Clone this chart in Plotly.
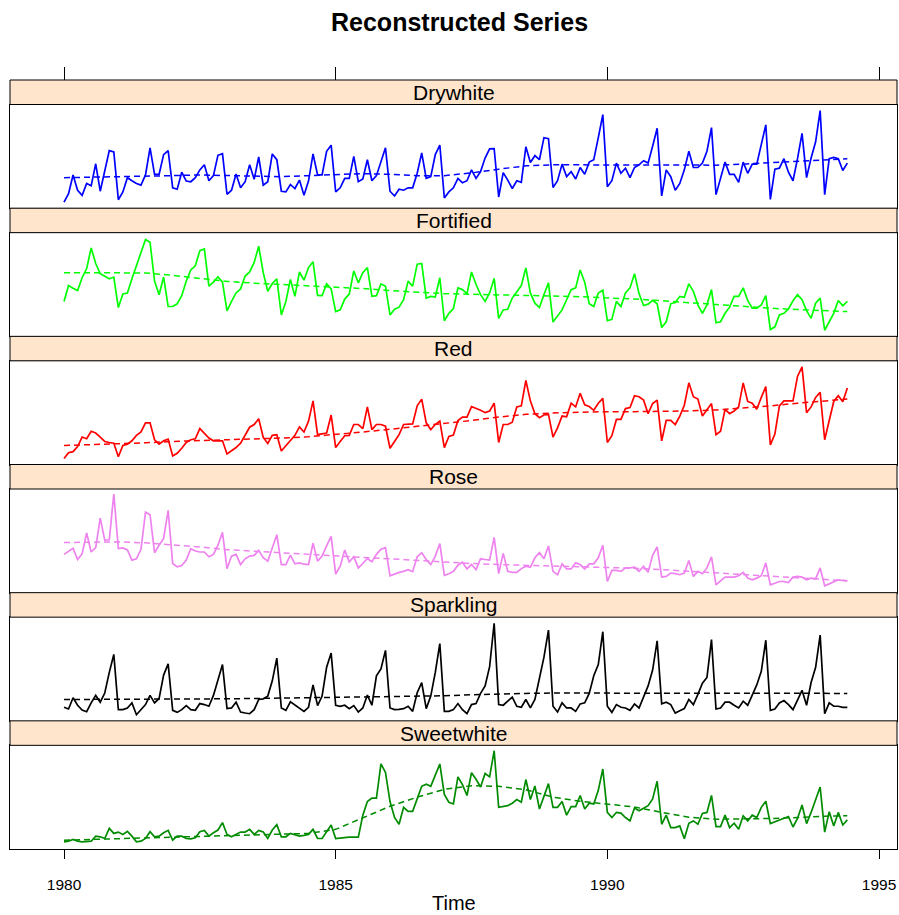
import plotly.graph_objects as go

# Monthly Australian wine sales, Jan 1980 .. Jun 1994 (174 months).
# Each panel is on its own free vertical scale (relative units, no y axis drawn).
start_year = 1980
n_months = 174

panel_names = ["Drywhite", "Fortified", "Red", "Rose", "Sparkling", "Sweetwhite"]
line_colors = ["#0000FF", "#00FF00", "#FF0000", "#EE82EE", "#000000", "#008B00"]

drywhite = [18, 43, 98, 53, 38, 73, 66, 131, 50, 108, 170, 166,
            25, 48, 90, 81, 73, 68, 98, 178, 100, 100, 158, 170,
            60, 56, 106, 80, 78, 90, 113, 128, 81, 96, 156, 161,
            41, 53, 101, 60, 78, 128, 85, 151, 68, 78, 160, 143,
            50, 48, 70, 58, 83, 38, 80, 160, 98, 98, 168, 186,
            48, 60, 88, 88, 153, 78, 86, 143, 81, 96, 138, 178,
            50, 36, 56, 53, 60, 60, 103, 163, 88, 93, 158, 186,
            30, 48, 60, 88, 75, 81, 113, 88, 108, 148, 175, 176,
            33, 105, 83, 58, 81, 76, 181, 135, 155, 143, 208, 205,
            61, 81, 130, 93, 108, 86, 120, 100, 136, 143, 208, 276,
            63, 81, 133, 103, 118, 90, 120, 128, 140, 133, 183, 236,
            36, 113, 93, 53, 73, 113, 168, 120, 120, 133, 168, 238,
            40, 86, 136, 100, 100, 76, 136, 103, 130, 130, 188, 246,
            26, 115, 118, 146, 106, 81, 146, 221, 90, 148, 196, 288,
            40, 146, 150, 146, 111, 133]

fortified = [103, 150, 142, 135, 173, 200, 261, 215, 185, 178, 170, 175,
             85, 125, 128, 170, 208, 248, 286, 278, 163, 123, 175, 88,
             88, 96, 120, 163, 196, 208, 253, 258, 148, 160, 176, 160,
             75, 103, 128, 140, 178, 190, 218, 266, 188, 133, 156, 170,
             63, 103, 168, 118, 190, 166, 203, 220, 121, 120, 155, 140,
             73, 78, 110, 125, 193, 158, 188, 203, 118, 120, 155, 148,
             63, 80, 86, 108, 163, 148, 213, 215, 113, 118, 116, 173,
             46, 68, 82, 143, 138, 126, 190, 153, 123, 103, 128, 171,
             53, 78, 80, 113, 133, 150, 202, 128, 98, 85, 123, 158,
             42, 60, 78, 108, 138, 143, 196, 160, 96, 88, 128, 136,
             46, 50, 103, 88, 128, 143, 185, 126, 91, 95, 106, 96,
             26, 43, 96, 100, 118, 115, 155, 133, 93, 68, 93, 138,
             40, 43, 68, 86, 118, 118, 143, 106, 83, 83, 93, 120,
             20, 28, 63, 68, 81, 105, 123, 108, 76, 53, 98, 113,
             18, 43, 68, 106, 90, 103]

red = [18, 35, 38, 53, 81, 76, 98, 93, 81, 68, 65, 63,
       23, 56, 60, 70, 86, 96, 123, 123, 73, 60, 70, 75,
       25, 33, 48, 65, 73, 76, 106, 93, 78, 70, 70, 70,
       31, 40, 50, 63, 88, 110, 118, 135, 80, 62, 86, 88,
       40, 56, 73, 86, 111, 96, 128, 188, 88, 90, 93, 146,
       50, 68, 85, 86, 118, 118, 106, 170, 103, 118, 118, 113,
       48, 68, 88, 118, 118, 120, 173, 193, 123, 103, 118, 128,
       50, 83, 87, 130, 140, 140, 171, 166, 160, 153, 158, 181,
       65, 118, 118, 125, 170, 173, 248, 188, 150, 138, 146, 148,
       81, 108, 143, 141, 181, 170, 210, 176, 171, 160, 181, 195,
       65, 85, 133, 133, 165, 168, 203, 200, 190, 150, 180, 190,
       70, 130, 130, 118, 143, 175, 241, 200, 193, 143, 160, 180,
       88, 98, 163, 150, 158, 170, 241, 186, 181, 163, 198, 230,
       58, 90, 173, 188, 188, 188, 260, 288, 153, 170, 198, 213,
       73, 133, 186, 203, 185, 226]

rose = [113, 121, 131, 98, 115, 176, 120, 133, 220, 155, 156, 291,
        130, 132, 126, 96, 100, 128, 238, 230, 118, 140, 160, 243,
        86, 76, 80, 96, 130, 123, 120, 120, 106, 113, 140, 178,
        71, 108, 113, 83, 100, 108, 110, 125, 103, 93, 133, 171,
        83, 83, 111, 85, 88, 84, 83, 146, 93, 108, 138, 166,
        55, 78, 126, 91, 106, 73, 86, 101, 91, 113, 128, 133,
        50, 56, 60, 63, 68, 62, 106, 118, 98, 83, 108, 145,
        51, 56, 63, 81, 90, 70, 83, 68, 100, 98, 96, 163,
        56, 116, 63, 60, 60, 71, 78, 75, 103, 118, 100, 138,
        63, 53, 85, 70, 70, 88, 83, 70, 85, 85, 103, 140,
        33, 66, 66, 63, 73, 73, 75, 63, 78, 60, 110, 135,
        46, 48, 58, 56, 53, 58, 95, 48, 63, 56, 73, 106,
        23, 35, 46, 46, 46, 50, 60, 43, 38, 43, 50, 88,
        23, 28, 33, 33, 30, 46, 48, 46, 38, 43, 41, 73,
        20, 26, 33, 38, 36, 35]

sparkling = [40, 35, 68, 46, 32, 27, 53, 75, 55, 82, 143, 196,
             33, 33, 38, 53, 18, 33, 48, 75, 53, 66, 135, 168,
             31, 25, 33, 45, 33, 31, 51, 48, 43, 75, 121, 166,
             36, 38, 55, 26, 23, 21, 33, 63, 65, 73, 118, 185,
             38, 31, 56, 46, 36, 28, 40, 106, 45, 73, 158, 200,
             46, 43, 46, 36, 45, 26, 38, 76, 46, 133, 153, 208,
             38, 33, 34, 36, 43, 28, 83, 113, 36, 73, 143, 228,
             28, 28, 33, 51, 33, 21, 48, 51, 81, 103, 160, 288,
             48, 46, 58, 70, 43, 40, 63, 38, 63, 123, 188, 268,
             43, 26, 53, 38, 38, 28, 50, 53, 81, 133, 166, 263,
             43, 25, 48, 40, 38, 31, 50, 38, 73, 103, 150, 236,
             50, 55, 48, 23, 30, 36, 63, 48, 78, 111, 128, 240,
             35, 38, 55, 55, 46, 38, 58, 46, 76, 106, 146, 238,
             31, 35, 53, 60, 48, 33, 61, 90, 46, 113, 158, 253,
             21, 53, 43, 43, 40, 40]

sweetwhite = [21, 23, 28, 23, 21, 22, 23, 38, 36, 31, 61, 46,
              50, 43, 52, 38, 21, 23, 31, 51, 36, 38, 48, 55,
              26, 38, 38, 31, 30, 33, 51, 55, 38, 48, 56, 78,
              43, 36, 43, 50, 50, 58, 43, 55, 50, 31, 56, 72,
              36, 36, 46, 42, 38, 40, 43, 58, 31, 31, 50, 71,
              31, 33, 35, 35, 35, 35, 100, 140, 150, 150, 251, 226,
              140, 93, 73, 123, 111, 111, 148, 185, 191, 185, 218, 251,
              161, 138, 133, 213, 190, 158, 225, 206, 183, 223, 213, 290,
              123, 125, 128, 135, 146, 138, 205, 146, 186, 118, 153, 193,
              123, 123, 140, 100, 125, 125, 158, 118, 135, 133, 173, 236,
              108, 93, 108, 106, 93, 83, 121, 113, 120, 128, 148, 200,
              73, 100, 63, 63, 68, 30, 76, 83, 73, 105, 108, 158,
              66, 66, 100, 63, 76, 58, 98, 83, 100, 93, 123, 141,
              75, 80, 85, 90, 96, 65, 90, 130, 75, 108, 143, 183,
              50, 110, 68, 108, 71, 86]

# Reconstructed trend components, sampled every six months (plus the last month).
trend_months = [0, 6, 12, 18, 24, 30, 36, 42, 48, 54, 60, 66, 72, 78, 84,
                90, 96, 102, 108, 114, 120, 126, 132, 138, 144, 150, 156, 162, 168, 173]

drywhite_trend = [90, 91, 92, 94, 96, 98, 96, 94, 93, 96, 100, 102, 100, 96, 96,
                  104, 115, 125, 128, 128, 128, 127, 126, 126, 127, 130, 134, 139, 143, 146]
fortified_trend = [188, 188, 188, 187, 180, 170, 162, 157, 153, 150, 146, 141, 135, 130, 126,
                   124, 123, 121, 119, 117, 114, 110, 105, 99, 93, 88, 83, 79, 75, 73]
red_trend = [56, 58, 61, 64, 68, 70, 73, 75, 78, 82, 88, 96, 104, 112, 120,
             130, 140, 148, 152, 155, 156, 156, 156, 158, 161, 166, 173, 181, 188, 193]
rose_trend = [148, 149, 150, 147, 142, 135, 127, 122, 118, 113, 108, 104, 100, 95, 90,
              86, 83, 81, 79, 77, 75, 72, 68, 63, 58, 53, 48, 43, 38, 35]
sparkling_trend = [63, 63, 63, 64, 64, 65, 65, 66, 67, 68, 68, 69, 70, 72, 74,
                   77, 80, 81, 82, 82, 82, 82, 81, 81, 81, 81, 81, 81, 81, 81]
sweetwhite_trend = [26, 28, 30, 33, 35, 37, 40, 42, 43, 46, 58, 93, 126, 153, 176,
                    187, 185, 175, 153, 141, 133, 124, 108, 94, 88, 88, 90, 93, 97, 98]

series = [drywhite, fortified, red, rose, sparkling, sweetwhite]
trends = [drywhite_trend, fortified_trend, red_trend, rose_trend, sparkling_trend, sweetwhite_trend]

year_ticks = [1980, 1985, 1990, 1995]
x_range = [1979.006, 1995.331]
y_range = [0, 306]

# page geometry (pixels)
W, H = 899, 915
M_L, M_R, M_T, M_B = 10, 2, 80, 66
plot_h = H - M_T - M_B
block_h = plot_h / 6
strip_h = 24.5


def paper_y(px):
    return (H - M_B - px) / plot_h


t_months = [start_year + m / 12 for m in range(n_months)]
t_trend = [start_year + m / 12 for m in trend_months]

fig = go.Figure()
font_family = "Liberation Sans, Arial, Helvetica, sans-serif"

layout = dict(
    width=W, height=H,
    margin=dict(l=M_L, r=M_R, t=M_T, b=M_B),
    paper_bgcolor="white", plot_bgcolor="white",
    showlegend=False,
    font=dict(family=font_family, color="black"),
)

shapes, annotations = [], []
for k, name in enumerate(panel_names):
    idx = "" if k == 0 else str(k + 1)
    top = M_T + k * block_h
    panel_top = top + strip_h
    bottom = top + block_h

    fig.add_trace(go.Scatter(
        x=t_months, y=series[k], mode="lines",
        line=dict(color=line_colors[k], width=1.7),
        xaxis="x" + idx, yaxis="y" + idx, hoverinfo="skip"))
    fig.add_trace(go.Scatter(
        x=t_trend, y=trends[k], mode="lines",
        line=dict(color=line_colors[k], width=1.5, dash="6px,4px"),
        xaxis="x" + idx, yaxis="y" + idx, hoverinfo="skip"))

    last = k == len(panel_names) - 1
    layout["xaxis" + idx] = dict(
        domain=[0, 1], anchor="y" + idx, range=x_range,
        showline=True, linecolor="black", linewidth=1, mirror=True,
        showgrid=False, zeroline=False,
        tickvals=year_ticks,
        ticks="outside" if last else "", ticklen=9, tickcolor="black",
        showticklabels=last, tickfont=dict(size=15.5),
        ticklabelstandoff=12,
        matches=None if k == 0 else "x",
    )
    layout["yaxis" + idx] = dict(
        domain=[paper_y(bottom), paper_y(panel_top)], anchor="x" + idx,
        range=y_range, showline=True, linecolor="black", linewidth=1,
        mirror=True, showgrid=False, zeroline=False, showticklabels=False,
        ticks="",
    )

    shapes.append(dict(
        type="rect", xref="paper", yref="paper",
        x0=0, x1=1, y0=paper_y(panel_top), y1=paper_y(top),
        fillcolor="#FFE5CC", line=dict(color="black", width=1)))
    annotations.append(dict(
        text=name, xref="paper", yref="paper",
        x=0.5, y=paper_y(top + strip_h / 2), xanchor="center", yanchor="middle",
        showarrow=False, font=dict(size=21)))

# tick marks above the top strip
fig.add_trace(go.Scatter(x=[1980], y=[None], xaxis="x7", yaxis="y",
                         mode="lines", hoverinfo="skip"))
layout["xaxis7"] = dict(
    overlaying="x", anchor="free", position=1, side="top", range=x_range,
    tickvals=year_ticks, ticks="outside", ticklen=13, tickcolor="black",
    showticklabels=False, showline=False, showgrid=False, zeroline=False,
    matches="x",
)

annotations.append(dict(
    text="Time", xref="paper", yref="paper", x=0.5, y=paper_y(903),
    xanchor="center", yanchor="middle", showarrow=False, font=dict(size=20)))
annotations.append(dict(
    text="<b>Reconstructed Series</b>", xref="paper", yref="paper",
    x=0.5, y=paper_y(22), xanchor="center", yanchor="middle", xshift=6,
    showarrow=False, font=dict(size=25)))

layout["shapes"] = shapes
layout["annotations"] = annotations
fig.update_layout(**layout)

fig.write_html("out.html")
